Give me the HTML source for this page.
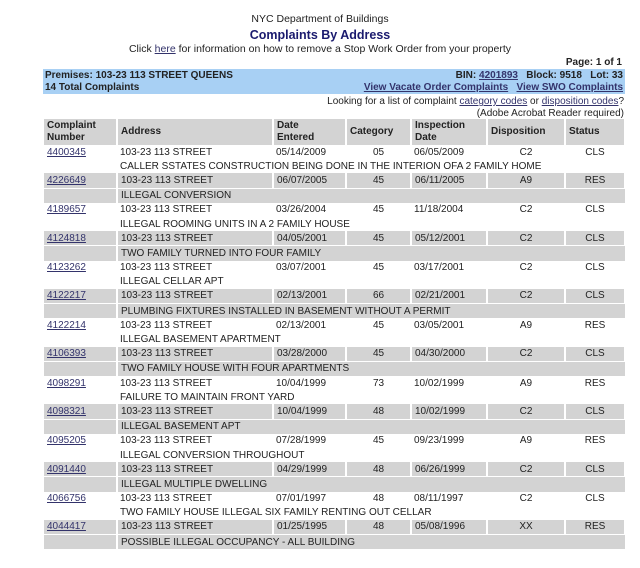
<!DOCTYPE html>
<html><head><style>
body{margin:0;width:640px;height:568px;background:#fff;font-family:"Liberation Sans",Arial,sans-serif;font-size:10px;color:#222;position:relative;overflow:hidden}
.c{position:absolute;left:0;width:640px;text-align:center}
a{color:#33336b;text-decoration:underline}
#bar{position:absolute;left:43px;top:69px;width:582px;height:25px;background:#a8d0f4;font-weight:bold;font-size:10px}
#bar div{position:absolute;height:13px;line-height:13px}
table{position:absolute;left:44px;top:119px;width:581px;border-collapse:collapse;table-layout:fixed;font-size:10px}
td{padding:0 0 0 3px;white-space:nowrap;overflow:visible;line-height:13px;height:14.2px}
tr.h td{background:#d3d3d3;height:26px;line-height:12px;font-weight:bold;border-right:2px solid #fff;color:#222}
tr.g td{background:#d3d3d3}
tr.g.a td{border-right:2px solid #fff}
tr.g.d td{border-top:1px solid #fff}
tr.g.d td:first-child{border-right:2px solid #fff}
.ct{text-align:center;padding:0}
</style></head><body>
<div class="c" style="top:13px;font-size:10.5px">NYC Department of Buildings</div>
<div class="c" style="top:28px;font-size:12.5px;font-weight:bold;color:#1a1a6e">Complaints By Address</div>
<div class="c" style="top:43px;font-size:10.5px">Click <a href="#">here</a> for information on how to remove a Stop Work Order from your property</div>
<div style="position:absolute;right:18px;top:57px;font-weight:bold">Page: 1 of 1</div>
<div id="bar">
<div style="left:2px;top:0">Premises: 103-23 113 STREET QUEENS</div>
<div style="left:2px;top:12px">14 Total Complaints</div>
<div style="right:2px;top:0">BIN: <a href="#">4201893</a>&nbsp;&nbsp; Block: 9518 &nbsp;&nbsp;Lot: 33</div>
<div style="right:2px;top:12px"><a href="#">View Vacate Order Complaints</a>&nbsp;&nbsp; <a href="#">View SWO Complaints</a></div>
</div>
<div style="position:absolute;right:16px;top:96px;text-align:right;line-height:12px">Looking for a list of complaint <a href="#">category codes</a> or <a href="#">disposition codes</a>?<br>(Adobe Acrobat Reader required)</div>
<table>
<colgroup><col style="width:73px"><col style="width:156px"><col style="width:73px"><col style="width:65px"><col style="width:76px"><col style="width:78px"><col style="width:60px"></colgroup>
<tr class="h"><td>Complaint<br>Number</td><td>Address</td><td>Date<br>Entered</td><td>Category</td><td>Inspection<br>Date</td><td>Disposition</td><td>Status</td></tr>
<tr><td><a href="#">4400345</a></td><td>103-23 113 STREET</td><td>05/14/2009</td><td class="ct">05</td><td>06/05/2009</td><td class="ct">C2</td><td class="ct">CLS</td></tr>
<tr><td></td><td colspan="6">CALLER SSTATES CONSTRUCTION BEING DONE IN THE INTERION OFA 2 FAMILY HOME</td></tr>
<tr class="g a"><td><a href="#">4226649</a></td><td>103-23 113 STREET</td><td>06/07/2005</td><td class="ct">45</td><td>06/11/2005</td><td class="ct">A9</td><td class="ct">RES</td></tr>
<tr class="g d"><td></td><td colspan="6">ILLEGAL CONVERSION</td></tr>
<tr><td><a href="#">4189657</a></td><td>103-23 113 STREET</td><td>03/26/2004</td><td class="ct">45</td><td>11/18/2004</td><td class="ct">C2</td><td class="ct">CLS</td></tr>
<tr><td></td><td colspan="6">ILLEGAL ROOMING UNITS IN A 2 FAMILY HOUSE</td></tr>
<tr class="g a"><td><a href="#">4124818</a></td><td>103-23 113 STREET</td><td>04/05/2001</td><td class="ct">45</td><td>05/12/2001</td><td class="ct">C2</td><td class="ct">CLS</td></tr>
<tr class="g d"><td></td><td colspan="6">TWO FAMILY TURNED INTO FOUR FAMILY</td></tr>
<tr><td><a href="#">4123262</a></td><td>103-23 113 STREET</td><td>03/07/2001</td><td class="ct">45</td><td>03/17/2001</td><td class="ct">C2</td><td class="ct">CLS</td></tr>
<tr><td></td><td colspan="6">ILLEGAL CELLAR APT</td></tr>
<tr class="g a"><td><a href="#">4122217</a></td><td>103-23 113 STREET</td><td>02/13/2001</td><td class="ct">66</td><td>02/21/2001</td><td class="ct">C2</td><td class="ct">CLS</td></tr>
<tr class="g d"><td></td><td colspan="6">PLUMBING FIXTURES INSTALLED IN BASEMENT WITHOUT A PERMIT</td></tr>
<tr><td><a href="#">4122214</a></td><td>103-23 113 STREET</td><td>02/13/2001</td><td class="ct">45</td><td>03/05/2001</td><td class="ct">A9</td><td class="ct">RES</td></tr>
<tr><td></td><td colspan="6">ILLEGAL BASEMENT APARTMENT</td></tr>
<tr class="g a"><td><a href="#">4106393</a></td><td>103-23 113 STREET</td><td>03/28/2000</td><td class="ct">45</td><td>04/30/2000</td><td class="ct">C2</td><td class="ct">CLS</td></tr>
<tr class="g d"><td></td><td colspan="6">TWO FAMILY HOUSE WITH FOUR APARTMENTS</td></tr>
<tr><td><a href="#">4098291</a></td><td>103-23 113 STREET</td><td>10/04/1999</td><td class="ct">73</td><td>10/02/1999</td><td class="ct">A9</td><td class="ct">RES</td></tr>
<tr><td></td><td colspan="6">FAILURE TO MAINTAIN FRONT YARD</td></tr>
<tr class="g a"><td><a href="#">4098321</a></td><td>103-23 113 STREET</td><td>10/04/1999</td><td class="ct">48</td><td>10/02/1999</td><td class="ct">C2</td><td class="ct">CLS</td></tr>
<tr class="g d"><td></td><td colspan="6">ILLEGAL BASEMENT APT</td></tr>
<tr><td><a href="#">4095205</a></td><td>103-23 113 STREET</td><td>07/28/1999</td><td class="ct">45</td><td>09/23/1999</td><td class="ct">A9</td><td class="ct">RES</td></tr>
<tr><td></td><td colspan="6">ILLEGAL CONVERSION THROUGHOUT</td></tr>
<tr class="g a"><td><a href="#">4091440</a></td><td>103-23 113 STREET</td><td>04/29/1999</td><td class="ct">48</td><td>06/26/1999</td><td class="ct">C2</td><td class="ct">CLS</td></tr>
<tr class="g d"><td></td><td colspan="6">ILLEGAL MULTIPLE DWELLING</td></tr>
<tr><td><a href="#">4066756</a></td><td>103-23 113 STREET</td><td>07/01/1997</td><td class="ct">48</td><td>08/11/1997</td><td class="ct">C2</td><td class="ct">CLS</td></tr>
<tr><td></td><td colspan="6">TWO FAMILY HOUSE ILLEGAL SIX FAMILY RENTING OUT CELLAR</td></tr>
<tr class="g a"><td><a href="#">4044417</a></td><td>103-23 113 STREET</td><td>01/25/1995</td><td class="ct">48</td><td>05/08/1996</td><td class="ct">XX</td><td class="ct">RES</td></tr>
<tr class="g d"><td></td><td colspan="6">POSSIBLE ILLEGAL OCCUPANCY - ALL BUILDING</td></tr>
</table>
</body></html>
